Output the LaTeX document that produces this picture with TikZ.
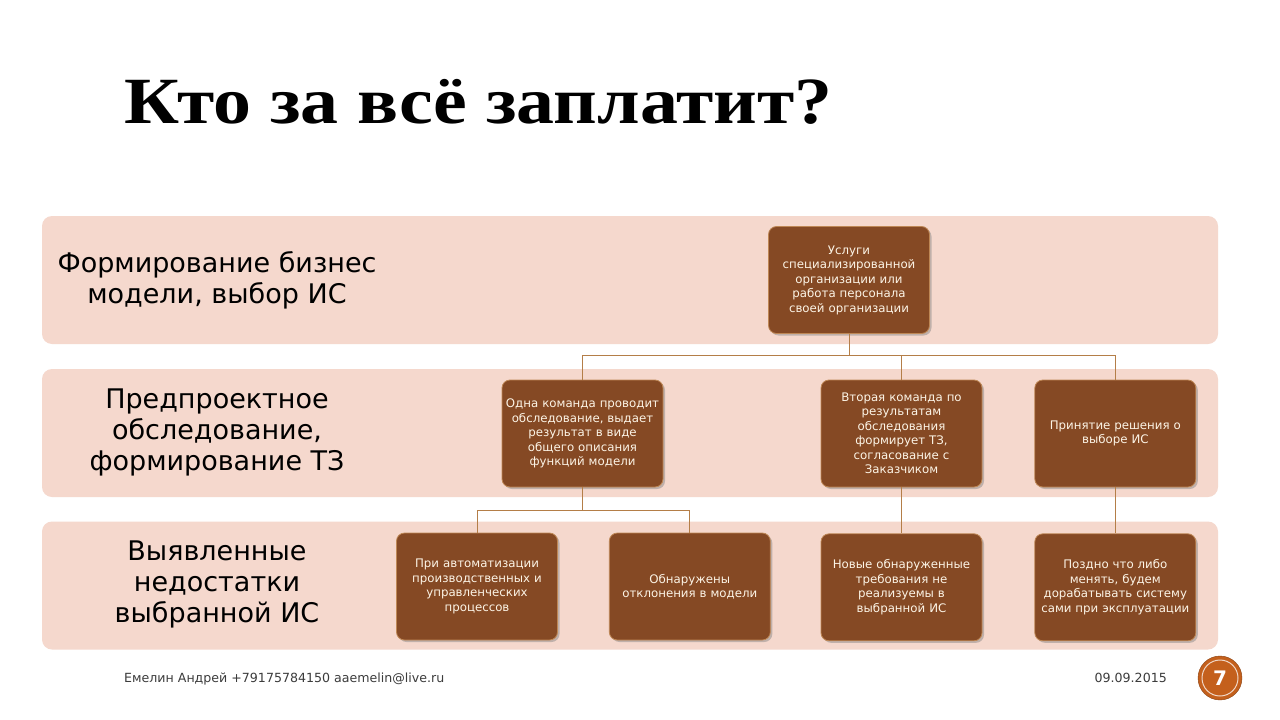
\documentclass[tikz,border=0pt]{standalone}
\usepackage{fontspec}
\setmainfont{DejaVu Sans}
\newfontfamily\titlefont[FakeStretch=1.15]{Liberation Serif}
\usetikzlibrary{positioning,shadows}

\definecolor{bandpink}{RGB}{245,216,205}
\definecolor{boxbrown}{RGB}{133,73,36}
\definecolor{boxedge}{RGB}{190,135,85}
\definecolor{linkbrown}{RGB}{180,126,72}
\definecolor{boxtext}{RGB}{252,244,230}
\definecolor{pagecirc}{RGB}{196,96,28}
\definecolor{foottext}{RGB}{60,60,60}

\tikzset{
  band/.style={fill=bandpink, rounded corners=10pt, minimum width=1176pt, minimum height=128pt},
  bandlabel/.style={align=center, font=\fontsize{27}{31}\selectfont, text=black},
  task/.style={fill=boxbrown, draw=boxedge, line width=0.8pt, rounded corners=8pt,
    minimum width=161pt, minimum height=107pt, inner xsep=1pt, text width=158pt, align=center,
    text=boxtext, font=\fontsize{11.8}{14.5}\selectfont,
    drop shadow={opacity=0.45, shadow xshift=2pt, shadow yshift=-2pt}},
  link/.style={draw=linkbrown, line width=1pt},
}

\begin{document}
\begin{tikzpicture}[x=1pt, y=-1pt, node distance=46pt and 51pt]
  \useasboundingbox[fill=white] (0,0) rectangle (1280,720);
  % title
  \node[anchor=base west, inner sep=0pt, font=\titlefont\bfseries\fontsize{66}{70}\selectfont] (title) at (124,123) {Кто за всё заплатит?};
  % bands
  \node[band] (bandone) at (630,280) {};
  \node[band] (bandtwo) at (630,433) {};
  \node[band] (bandthree) at (630,585.5) {};
  \node[bandlabel] (lblone) at (217,280) {Формирование бизнес\\модели, выбор ИС};
  \node[bandlabel] (lbltwo) at (217,432) {Предпроектное\\обследование,\\формирование ТЗ};
  \node[bandlabel] (lblthree) at (217,584) {Выявленные\\недостатки\\выбранной ИС};
  % boxes
  \node[task] (services) at (849,280) {Услуги\\специализированной\\организации или\\работа персонала\\своей организации};
  \node[task] (survey) at (582.5,433.5) {Одна команда проводит\\обследование, выдает\\результат в виде\\общего описания\\функций модели};
  \node[task] (spec) at (901.5,433.5) {Вторая команда по\\результатам\\обследования\\формирует ТЗ,\\согласование с\\Заказчиком};
  \node[task] (choice) [right=52pt of spec] {Принятие решения о\\выборе ИС};
  \node[task] (automation) at (477,586.5) {При автоматизации\\производственных и\\управленческих\\процессов};
  \node[task] (deviation) [right=51pt of automation] {Обнаружены\\отклонения в модели};
  \node[task] (newreq) [below=of spec] {Новые обнаруженные\\требования не\\реализуемы в\\выбранной ИС};
  \node[task] (late) [below=of choice] {Поздно что либо\\менять, будем\\дорабатывать  систему\\сами при эксплуатации};
  % connectors
  \draw[link] (services.south) -- ++(0,22) -| (survey.north);
  \draw[link] (services.south) -- ++(0,22) -| (spec.north);
  \draw[link] (services.south) -- ++(0,22) -| (choice.north);
  \draw[link] (survey.south) -- ++(0,23) -| (automation.north);
  \draw[link] (survey.south) -- ++(0,23) -| (deviation.north);
  \draw[link] (spec.south) -- (newreq.north);
  \draw[link] (choice.south) -- (late.north);
  % footer
  \node[anchor=base west, inner sep=0pt, text=foottext, font=\fontsize{12.6}{15}\selectfont] (author) at (124,682) {Емелин Андрей +79175784150 aaemelin@live.ru};
  \node[anchor=base east, inner sep=0pt, text=foottext, font=\fontsize{12.6}{15}\selectfont] (date) at (1167,682) {09.09.2015};
  \node[circle, fill=pagecirc, draw=pagecirc!70!black, minimum size=44pt, inner sep=0pt,
    text=white, font=\bfseries\fontsize{20}{20}\selectfont] (pagenum) at (1220,678) {7};
  \draw[white!75!pagecirc, line width=1pt] (pagenum.center) circle (18pt);
\end{tikzpicture}
\end{document}
